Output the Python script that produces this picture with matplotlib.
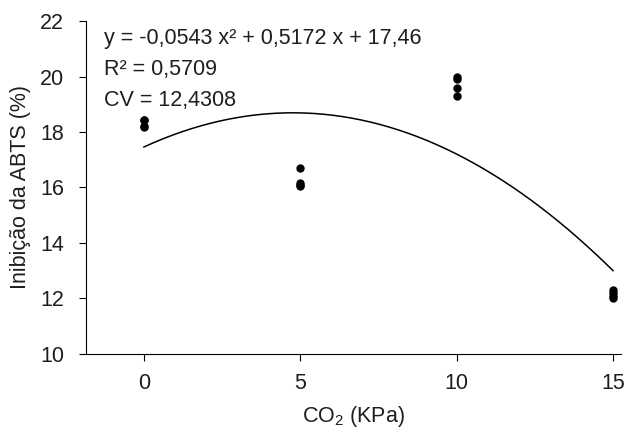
import matplotlib
matplotlib.use("Agg")
import matplotlib.pyplot as plt
import numpy as np

plt.rcParams['font.family'] = ['Liberation Sans', 'DejaVu Sans']
plt.rcParams['mathtext.fontset'] = 'custom'
plt.rcParams['mathtext.rm'] = 'Liberation Sans'
plt.rcParams['mathtext.it'] = 'Liberation Sans:italic'

co2_levels = [0, 5, 10, 15]
inhibition = [
    [18.45, 18.42, 18.2, 18.17],
    [16.7, 16.15, 16.1, 16.05],
    [20.0, 19.9, 19.6, 19.3],
    [12.3, 12.2, 12.1, 12.0],
]
coef_a, coef_b, coef_c = -0.0543, 0.5172, 17.46
x_ticks = [0, 5, 10, 15]
y_ticks = [10, 12, 14, 16, 18, 20, 22]
eq_lines = ["y = -0,0543 x² + 0,5172 x + 17,46", "R² = 0,5709", "CV = 12,4308"]

txt_color = '#1e1e1e'
fs = 15.5

fig = plt.figure(figsize=(6.24, 4.29), dpi=100)
ax = fig.add_axes([0.138, 0.175, 0.857, 0.776])

for x, ys in zip(co2_levels, inhibition):
    ax.plot([x] * len(ys), ys, 'o', color='black', markersize=5, linestyle='none')

xs = np.linspace(0, 15, 200)
ax.plot(xs, coef_a * xs**2 + coef_b * xs + coef_c, color='black', linewidth=1.1)

ax.set_xlim(-1.85, 15.25)
ax.set_ylim(10, 22)
ax.set_xticks(x_ticks)
ax.set_yticks(y_ticks)
ax.spines['top'].set_visible(False)
ax.spines['right'].set_visible(False)
ax.tick_params(axis='y', direction='out', length=5, labelsize=fs, pad=11, labelcolor=txt_color)
ax.tick_params(axis='x', direction='out', length=5, labelsize=fs, pad=9, labelcolor=txt_color)
ax.set_xlabel("CO$_2$ (KPa)", fontsize=fs, labelpad=7, color=txt_color)
ax.set_ylabel("Inibição da ABTS (%)", fontsize=fs, labelpad=6, color=txt_color)

for i, t in enumerate(eq_lines):
    ax.text(0.033, 0.978 - i * 0.092, t, transform=ax.transAxes, fontsize=fs,
            va='top', ha='left', color=txt_color)

fig.savefig("out.png", dpi=100)
